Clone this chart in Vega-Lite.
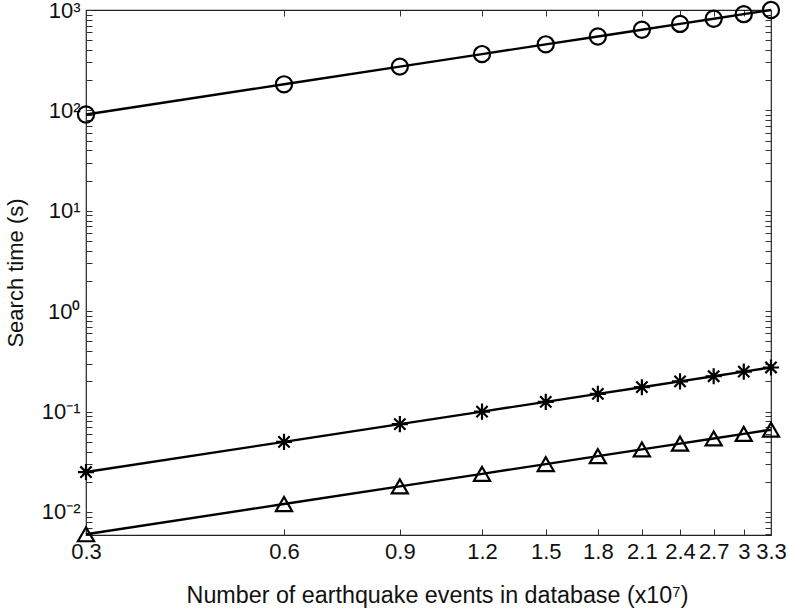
{
  "$schema": "https://vega.github.io/schema/vega-lite/v6.json",
  "width": 685,
  "height": 525,
  "autosize": {"type": "none"},
  "padding": {"left": 86, "top": 10, "right": 17, "bottom": 76},
  "background": "white",
  "config": {
    "view": {"stroke": "#222", "strokeWidth": 1.2},
    "font": "Liberation Sans",
    "axis": {
      "grid": false,
      "domain": false,
      "tickColor": "#333",
      "tickWidth": 1,
      "tickSize": -6,
      "labelColor": "#111",
      "titleColor": "#111",
      "labelFont": "Liberation Sans",
      "titleFont": "Liberation Sans",
      "labelFontSize": 22,
      "titleFontSize": 22,
      "titleFontWeight": "normal",
      "labelOverlap": false,
      "labelBound": false,
      "labelFlush": false
    }
  },
  "data": {
    "values": [
      {"n": 0.3, "t": 91, "s": "circle"},
      {"n": 0.6, "t": 182, "s": "circle"},
      {"n": 0.9, "t": 273, "s": "circle"},
      {"n": 1.2, "t": 364, "s": "circle"},
      {"n": 1.5, "t": 455, "s": "circle"},
      {"n": 1.8, "t": 545, "s": "circle"},
      {"n": 2.1, "t": 636, "s": "circle"},
      {"n": 2.4, "t": 727, "s": "circle"},
      {"n": 2.7, "t": 818, "s": "circle"},
      {"n": 3.0, "t": 909, "s": "circle"},
      {"n": 3.3, "t": 1000, "s": "circle"},
      {"n": 0.3, "t": 0.025, "s": "star"},
      {"n": 0.6, "t": 0.05, "s": "star"},
      {"n": 0.9, "t": 0.075, "s": "star"},
      {"n": 1.2, "t": 0.1, "s": "star"},
      {"n": 1.5, "t": 0.125, "s": "star"},
      {"n": 1.8, "t": 0.15, "s": "star"},
      {"n": 2.1, "t": 0.175, "s": "star"},
      {"n": 2.4, "t": 0.2, "s": "star"},
      {"n": 2.7, "t": 0.225, "s": "star"},
      {"n": 3.0, "t": 0.25, "s": "star"},
      {"n": 3.3, "t": 0.275, "s": "star"},
      {"n": 0.3, "t": 0.006, "s": "triangle"},
      {"n": 0.6, "t": 0.012, "s": "triangle"},
      {"n": 0.9, "t": 0.018, "s": "triangle"},
      {"n": 1.2, "t": 0.024, "s": "triangle"},
      {"n": 1.5, "t": 0.030, "s": "triangle"},
      {"n": 1.8, "t": 0.036, "s": "triangle"},
      {"n": 2.1, "t": 0.042, "s": "triangle"},
      {"n": 2.4, "t": 0.048, "s": "triangle"},
      {"n": 2.7, "t": 0.054, "s": "triangle"},
      {"n": 3.0, "t": 0.060, "s": "triangle"},
      {"n": 3.3, "t": 0.066, "s": "triangle"}
    ]
  },
  "layer": [
    {
      "mark": {"type": "line", "color": "black", "strokeWidth": 2.4},
      "encoding": {
        "x": {
          "field": "n",
          "type": "quantitative",
          "scale": {"type": "log", "domain": [0.3, 3.3], "nice": false},
          "axis": {
            "orient": "bottom",
            "values": [0.3, 0.6, 0.9, 1.2, 1.5, 1.8, 2.1, 2.4, 2.7, 3, 3.3],
            "labelExpr": "format(datum.value, '.2~f')",
            "labelPadding": 12,
            "title": "Number of earthquake events in database (x10⁷)",
            "titleFontSize": 23.3,
            "titleX": 351,
            "titlePadding": 22
          }
        },
        "y": {
          "field": "t",
          "type": "quantitative",
          "scale": {"type": "log", "domain": [0.0059, 1000], "nice": false},
          "axis": {
            "orient": "left",
            "values": [0.006, 0.007, 0.008, 0.009, 0.01, 0.02, 0.03, 0.04, 0.05, 0.06, 0.07, 0.08, 0.09, 0.1, 0.2, 0.3, 0.4, 0.5, 0.6, 0.7, 0.8, 0.9, 1, 2, 3, 4, 5, 6, 7, 8, 9, 10, 20, 30, 40, 50, 60, 70, 80, 90, 100, 200, 300, 400, 500, 600, 700, 800, 900, 1000],
            "labelExpr": "datum.value == 1000 ? '10³' : datum.value == 100 ? '10²' : datum.value == 10 ? '10¹' : datum.value == 1 ? '10⁰' : datum.value == 0.1 ? '10⁻¹' : datum.value == 0.01 ? '10⁻²' : ''",
            "labelPadding": 12,
            "title": "Search time (s)",
            "titlePadding": 14
          }
        },
        "detail": {"field": "s", "type": "nominal"}
      }
    },
    {
      "mark": {"type": "point", "filled": false, "color": "black", "strokeWidth": 2.2, "size": 260, "opacity": 1},
      "encoding": {
        "x": {
          "field": "n",
          "type": "quantitative",
          "scale": {"type": "log", "domain": [0.3, 3.3], "nice": false},
          "axis": {
            "orient": "top",
            "values": [0.3, 0.6, 0.9, 1.2, 1.5, 1.8, 2.1, 2.4, 2.7, 3, 3.3],
            "labels": false,
            "title": null
          }
        },
        "y": {
          "field": "t",
          "type": "quantitative",
          "scale": {"type": "log", "domain": [0.0059, 1000], "nice": false},
          "axis": {
            "orient": "right",
            "values": [0.006, 0.007, 0.008, 0.009, 0.01, 0.02, 0.03, 0.04, 0.05, 0.06, 0.07, 0.08, 0.09, 0.1, 0.2, 0.3, 0.4, 0.5, 0.6, 0.7, 0.8, 0.9, 1, 2, 3, 4, 5, 6, 7, 8, 9, 10, 20, 30, 40, 50, 60, 70, 80, 90, 100, 200, 300, 400, 500, 600, 700, 800, 900, 1000],
            "labels": false,
            "title": null
          }
        },
        "shape": {
          "field": "s",
          "type": "nominal",
          "scale": {
            "domain": ["circle", "star", "triangle"],
            "range": ["circle", "M-1,0L1,0M0,-1L0,1M-0.7,-0.7L0.7,0.7M-0.7,0.7L0.7,-0.7", "triangle-up"]
          },
          "legend": null
        }
      }
    }
  ],
  "resolve": {"axis": {"x": "independent", "y": "independent"}}
}
